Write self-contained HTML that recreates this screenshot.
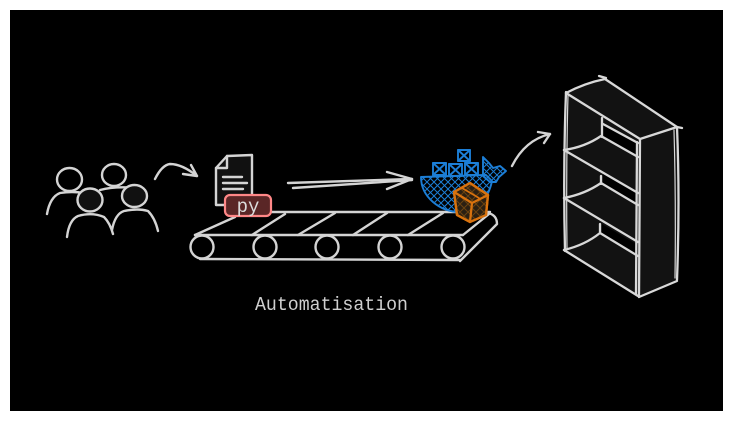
<!DOCTYPE html>
<html><head><meta charset="utf-8"><style>
html,body{margin:0;padding:0;background:#fff;}
svg{display:block;}
</style></head><body>
<svg width="733" height="421" viewBox="0 0 733 421" xmlns="http://www.w3.org/2000/svg">
<defs>
<pattern id="hatchB" patternUnits="userSpaceOnUse" width="7" height="7">
<path d="M0 0 L7 7 M7 0 L0 7" stroke="#1c7ed6" stroke-width="1"/>
</pattern>
<pattern id="hatchO" patternUnits="userSpaceOnUse" width="8" height="8">
<path d="M0 0 L8 8 M8 0 L0 8" stroke="#6a4210" stroke-width="1"/>
</pattern>
</defs>
<rect x="0" y="0" width="733" height="421" fill="#fff"/>
<rect x="10" y="10" width="713" height="401" fill="#000"/>

<g fill="none" stroke="#d4d4d4" stroke-width="2.4" stroke-linecap="round" stroke-linejoin="round">
<!-- people -->
<ellipse cx="69.5" cy="179.5" rx="12.5" ry="11.5"/>
<path d="M47 214 Q50 197 60 193 Q72 191 84 193"/>
<ellipse cx="114" cy="175" rx="12" ry="11"/>
<path d="M100 190 Q115 186 137 188"/>
<ellipse cx="90" cy="200" rx="12.5" ry="11.5" fill="#111"/>
<path d="M67 237 Q69 220 78 216 Q92 212 104 217 Q110 223 113 234"/>
<ellipse cx="134.5" cy="196" rx="12.5" ry="11" fill="#111"/>
<path d="M112 230 Q115 214 124 211 Q138 208 148 211 Q155 218 158 231"/>

<!-- arrow 1 -->
<path d="M155 179 Q162 165 170 164 Q182 164 197 176"/>
<path d="M191 165 L197 176 L183 174"/>

<!-- conveyor -->
<path d="M262 212 L490 212"/>
<path d="M195 235 L463 235"/>
<path d="M200 259 L460 260"/>
<path d="M195 235 L235 217"/>
<path d="M252 235 L285 214"/>
<path d="M298 235 L335 213"/>
<path d="M353 235 L387 213"/>
<path d="M408 235 L443 213"/>
<path d="M463 235 L489 214"/>
<path d="M488 213 Q497 215 497 224 L460 261"/>
<circle cx="202" cy="247" r="11.5"/>
<circle cx="265" cy="247" r="11.5"/>
<circle cx="327" cy="247" r="11.5"/>
<circle cx="390" cy="247" r="11.5"/>
<circle cx="453" cy="247" r="11.5"/>

<!-- file -->
<path d="M227 156 L252 155 L252 205 L216 205 L216 168 Z" fill="#111"/>
<path d="M227 156 L227 168 L216 168"/>
<path d="M223 177 L242 177 M223 183 L247 183 M223 189 L243 189"/>

<!-- arrow 2 -->
<path d="M288 183 L412 179"/>
<path d="M293 188 L412 180"/>
<path d="M387 172 L412 179 L387 189"/>

<!-- arrow 3 -->
<path d="M512 166 Q525 140 550 134"/>
<path d="M538 132 L550 134 L544 143"/>
</g>

<!-- py badge -->
<rect x="225" y="195" width="46" height="21" rx="5" fill="#5a2626" stroke="#ff8787" stroke-width="2.2"/>
<text x="248" y="212" font-family="Liberation Mono, monospace" font-size="19" fill="#dcdcdc" text-anchor="middle">py</text>

<!-- docker whale -->
<g stroke="#1c7ed6" stroke-width="1.9" stroke-linejoin="round" stroke-linecap="round">
<path d="M421 177 L486 175 L492 181 C488 200 476 212 460 212 C440 212 421 197 421 177 Z" fill="url(#hatchB)"/>
<path d="M483 176 L483 157 L489 163 L493 168 L500 166 L506 171 L499 177 L496 182 L490 182 Z" fill="url(#hatchB)"/>
<g fill="none">
<rect x="458" y="150" width="12" height="11"/><path d="M458 150 L470 161 M470 150 L458 161"/>
<rect x="433" y="163" width="13" height="12"/><path d="M433 163 L446 175 M446 163 L433 175"/>
<rect x="449" y="164" width="13" height="12"/><path d="M449 164 L462 176 M462 164 L449 176"/>
<rect x="465" y="163" width="13" height="12"/><path d="M465 163 L478 175 M478 163 L465 175"/>
</g>
</g>

<!-- orange cube -->
<g stroke="#d8720e" stroke-width="2.3" stroke-linejoin="round" stroke-linecap="round">
<path d="M454 192 L470 183 L488 195 L486 215 L470 222 L457 215 Z" fill="#2a1f12"/>
<path d="M454 192 L470 183 L488 195 L486 215 L470 222 L457 215 Z" fill="url(#hatchO)"/>
<path d="M454 192 L472 203 L488 195 M472 203 L470 222" fill="none"/>
<path d="M462 188 L479 198" fill="none" stroke-width="1.6"/>
</g>

<!-- bookshelf -->
<g stroke="#d8d8d8" stroke-width="2.3" stroke-linecap="round" stroke-linejoin="round">
<path d="M566 93 Q585 83 605 79 L677 127 L677 280 L639 297 L565 250 Z" fill="#121212" stroke="none"/>
<path d="M603 124 L638 143 L638 156 L603 136 Z" fill="#000" stroke="none"/>
<path d="M603 174 L638 194 L638 205 L603 184 Z" fill="#000" stroke="none"/>
<path d="M602 224 L638 245 L638 256 L602 234 Z" fill="#000" stroke="none"/>
<g fill="none">
<path d="M566 93 Q585 83 605 79 L677 127 L640 139 Z"/>
<path d="M599 76 L606 78"/>
<path d="M677 127 L682 128"/>
<path d="M566 92 Q563 170 565 251"/>
<path d="M568 95 Q566 170 567 248" stroke-width="1.2"/>
<path d="M640 139 L639 297"/>
<path d="M637 142 L636 294"/>
<path d="M677 127 Q680 200 677 280"/>
<path d="M674 130 Q676 200 675 278" stroke-width="1.2"/>
<path d="M639 297 L677 281"/>
<path d="M602 118 L602 137"/>
<path d="M603 124 L638 143"/>
<path d="M564 150 L638 193"/>
<path d="M564 150 Q585 147 601 136 L638 157"/>
<path d="M601 176 L601 184"/>
<path d="M564 198 L638 242"/>
<path d="M564 198 Q585 194 601 183 L638 205"/>
<path d="M600 224 L600 232"/>
<path d="M564 250 L638 296"/>
<path d="M564 250 Q585 245 600 233 L638 256"/>
</g>
</g>

<text x="255" y="310" font-family="Liberation Mono, monospace" font-size="19" fill="#cfcfcf" textLength="153" lengthAdjust="spacingAndGlyphs">Automatisation</text>
</svg>
</body></html>
